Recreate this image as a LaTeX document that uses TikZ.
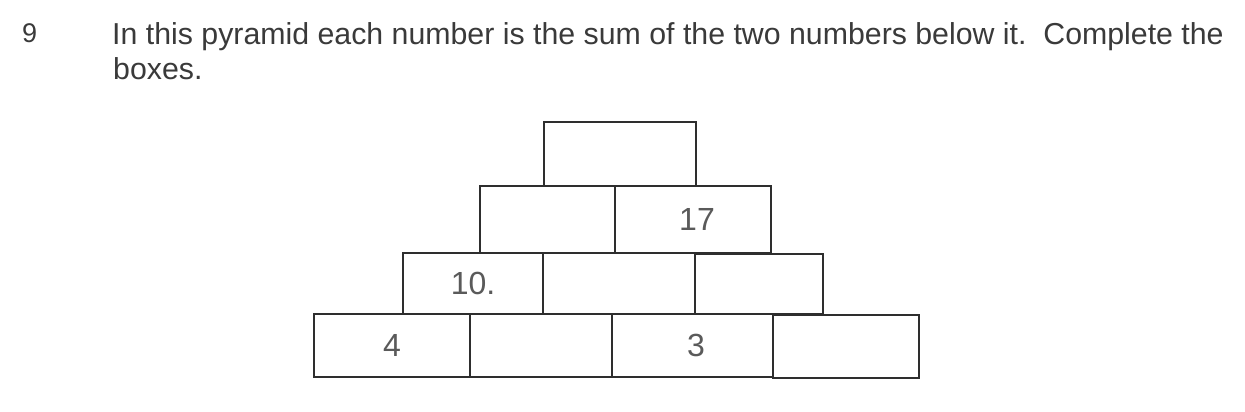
\documentclass[tikz,border=0pt]{standalone}
\usepackage{fontspec}
\setmainfont{Liberation Sans}
\definecolor{inkline}{HTML}{2E2E2E}
\definecolor{inktext}{HTML}{3A3A3A}
\definecolor{inknum}{HTML}{5A5A5A}
\tikzset{
  cellbox/.style={draw=inkline, line width=1.6pt, rectangle, inner sep=0pt,
    text=inknum, font=\fontsize{32}{36}\selectfont},
  qtext/.style={anchor=base west, inner sep=0pt, text=inktext,
    font=\fontsize{30.3}{34}\selectfont}
}
\newcommand{\cellnode}[6]{%
  \node[cellbox, minimum width={#3-#2}, minimum height={#5-#4}]
    (#1) at ({(#2+#3)/2},{(#4+#5)/2}) {#6};}
\begin{document}
\begin{tikzpicture}[x=1pt,y=-1pt]
\useasboundingbox[fill=white] (0,0) rectangle (1245,412);
% question text
\node[qtext, font=\fontsize{27}{30}\selectfont] (qnum) at (22,43) {9};
\node[qtext] (line1) at (112,45) {In this pyramid each number is the sum of the two numbers below it.\ \ Complete the};
\node[qtext] (line2) at (113,79) {boxes.};
% pyramid
\cellnode{top}{544}{696}{122}{186}{}
\cellnode{ra}{480}{615}{186}{253}{}
\cellnode{rb}{615}{771}{186}{253}{\hspace*{8pt}17}
\cellnode{sa}{403}{543}{253}{314}{10.}
\cellnode{sb}{543}{695}{253}{314}{}
\cellnode{sc}{695}{823}{254}{314}{}
\cellnode{ta}{314}{470}{314}{377}{4}
\cellnode{tb}{470}{612}{314}{377}{}
\cellnode{tc}{612}{773}{314}{377}{\hspace*{7pt}3}
\cellnode{td}{773}{919}{315}{378}{}
\end{tikzpicture}
\end{document}
